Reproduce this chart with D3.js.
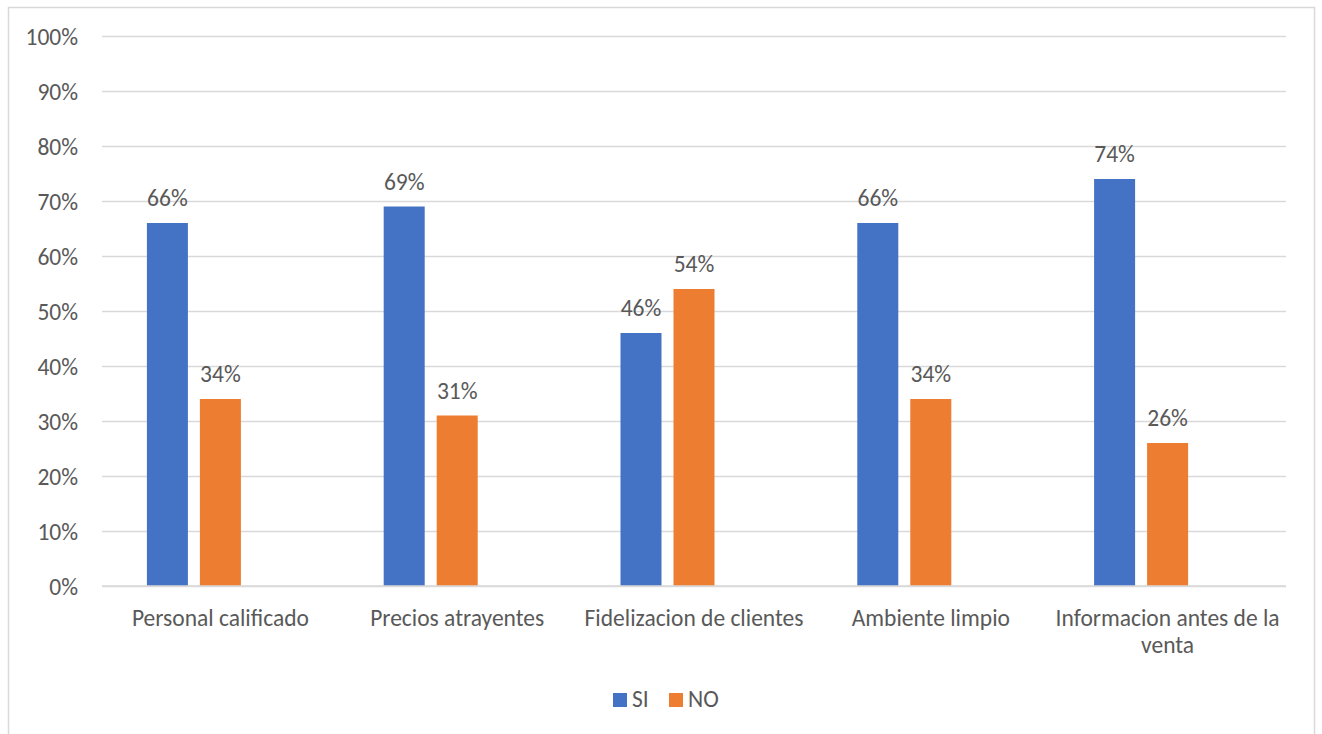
<!DOCTYPE html>
<html><head><meta charset="utf-8">
<script src="https://cdn.jsdelivr.net/npm/d3@7"></script>
<style>
html,body{margin:0;padding:0;background:#fff;}
svg{display:block;}
text{font-family:Carlito, Calibri, Lato, "Liberation Sans", sans-serif;fill:#595959;}
</style></head>
<body>
<svg id="c" width="1322" height="734"></svg>
<script>
const categories = ["Personal calificado","Precios atrayentes","Fidelizacion de clientes","Ambiente limpio","Informacion antes de la venta"];
const seriesNames = ["SI","NO"];
const siValues = [66,69,46,66,74];
const noValues = [34,31,54,34,26];
const yTicks = [0,10,20,30,40,50,60,70,80,90,100];
const colors = {"SI":"#4472C4","NO":"#ED7D31"};

const FS = "23.5px";
const svg = d3.select("#c");

// chart border
svg.append("rect").attr("x",8.5).attr("y",7.5).attr("width",1306).attr("height",740)
  .attr("fill","#fff").attr("stroke","#d9d9d9").attr("stroke-width",1.5);

const y = d3.scaleLinear().domain([0,100]).range([586,36]);
const x0 = d3.scaleBand().domain(categories).range([102,1286]).paddingInner(0).paddingOuter(0);
// three sub-slots (third series empty as in the source chart)
const slots = ["SI","NO","_"];
const x1 = d3.scaleBand().domain(slots).range([0,x0.bandwidth()]).paddingInner(12/53).paddingOuter(0.847);

// gridlines
const yAxis = d3.axisLeft(y).tickValues(yTicks).tickSize(-(1286-102)).tickFormat(d=>d+"%");
const gy = svg.append("g").attr("transform","translate(102,0)").call(yAxis);
gy.select(".domain").remove();
gy.selectAll(".tick line").attr("stroke","#d9d9d9").attr("stroke-width",1.5);
gy.selectAll(".tick text").attr("x",-24).attr("dy","0.36em").style("font-size",FS).attr("fill","#595959");

const data = categories.map((c,i)=>({cat:c, SI:siValues[i], NO:noValues[i]}));

const g = svg.append("g");
data.forEach(d=>{
  seriesNames.forEach(s=>{
    const xx = x0(d.cat)+x1(s);
    g.append("rect").attr("x",xx).attr("y",y(d[s])).attr("width",x1.bandwidth())
      .attr("height",y(0)-y(d[s])).attr("fill",colors[s]);
    g.append("text").attr("x",xx+x1.bandwidth()/2).attr("y",y(d[s])-17)
      .attr("text-anchor","middle").style("font-size",FS).text(d[s]+"%");
  });
});

// x axis line
svg.append("line").attr("x1",102).attr("x2",1286).attr("y1",586).attr("y2",586)
  .attr("stroke","#d9d9d9").attr("stroke-width",1.5);

// category labels with wrapping
const xl = svg.append("g");
categories.forEach(c=>{
  const cx = x0(c)+x0.bandwidth()/2;
  const t = xl.append("text").attr("x",cx).attr("y",626).attr("text-anchor","middle").style("font-size",FS);
  const maxW = x0.bandwidth()-4;
  const words = c.split(" ");
  let line = [], lines = [];
  const probe = xl.append("text").style("font-size",FS);
  words.forEach(w=>{
    const test = line.concat([w]).join(" ");
    probe.text(test);
    if (probe.node().getComputedTextLength() > maxW && line.length){ lines.push(line.join(" ")); line=[w]; }
    else line.push(w);
  });
  lines.push(line.join(" "));
  probe.remove();
  lines.forEach((l,i)=>t.append("tspan").attr("x",cx).attr("y",626+i*27).text(l));
});

// legend
const lg = svg.append("g");
const legendItems = [{n:"SI",x:613},{n:"NO",x:669}];
legendItems.forEach(it=>{
  lg.append("rect").attr("x",it.x).attr("y",693).attr("width",14).attr("height",14).attr("fill",colors[it.n]);
  lg.append("text").attr("x",it.x+19).attr("y",707).style("font-size",FS).text(it.n);
});
</script>
</body></html>
